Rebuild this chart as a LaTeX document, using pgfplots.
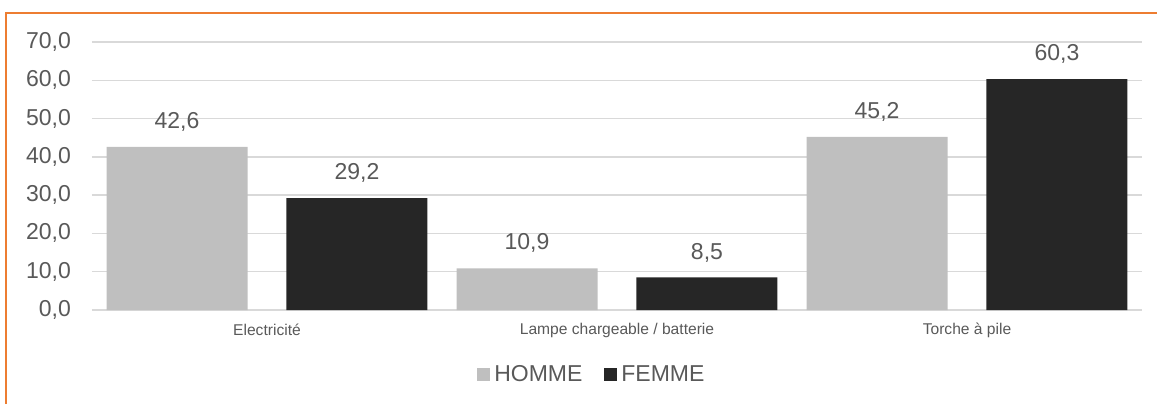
\documentclass[border=0pt]{standalone}
\usepackage{fontspec}
\setmainfont{Liberation Sans}
\usepackage{pgfplots}
\pgfplotsset{compat=1.18}
\definecolor{homme}{HTML}{BFBFBF}
\definecolor{femme}{HTML}{262626}
\definecolor{txt}{HTML}{595959}
\definecolor{gridc}{HTML}{D9D9D9}
\definecolor{frame}{HTML}{ED7D31}
\begin{document}
\begin{tikzpicture}
\useasboundingbox (0,0) rectangle (578.5pt,202pt);
\draw[frame, line width=1pt] (3pt,0) -- (3pt,195.5pt) -- (578.5pt,195.5pt);
\begin{axis}[
  at={(46pt,47pt)}, anchor=south west,
  scale only axis, width=525pt, height=134pt,
  xmin=-0.5, xmax=2.5, ymin=0, ymax=70,
  ybar, bar width=0.403,
  axis line style={draw=none},
  major tick length=0pt,
  ytick={0,10,...,70},
  xtick={0,1,2},
  xticklabels={Electricité, Lampe chargeable / batterie, Torche à pile},
  ymajorgrids, grid style={gridc, line width=0.75pt},
  /pgf/number format/.cd, use comma, fixed, fixed zerofill, precision=1, assume math mode=true,
  /pgfplots/.cd,
  yticklabel style={font=\fontsize{11.5}{13}\selectfont, text=txt, anchor=east, xshift=-7pt},
  xticklabel style={font=\fontsize{7.8}{9}\selectfont, text=txt, anchor=center, yshift=-10pt},
  nodes near coords,
  nodes near coords style={font=\fontsize{11.5}{13}\selectfont, text=txt, anchor=center, yshift=12.5pt},
  legend columns=2,
  legend style={at={(0.477,-0.2425)}, anchor=center, draw=none, fill=none,
    font=\fontsize{11.5}{13}\selectfont, text=txt, column sep=0pt,
    /tikz/every even column/.append style={column sep=9pt}},
  legend image code/.code={\fill[#1] (0pt,-3.25pt) rectangle (6.5pt,3.25pt);},
]
\addplot[bar shift=-0.257, fill=homme, draw=none] coordinates {(0,42.6) (1,10.9) (2,45.2)};
\addplot[bar shift=0.257, fill=femme, draw=none] coordinates {(0,29.2) (1,8.5) (2,60.3)};
\legend{HOMME, FEMME}
\end{axis}
\end{tikzpicture}
\end{document}
